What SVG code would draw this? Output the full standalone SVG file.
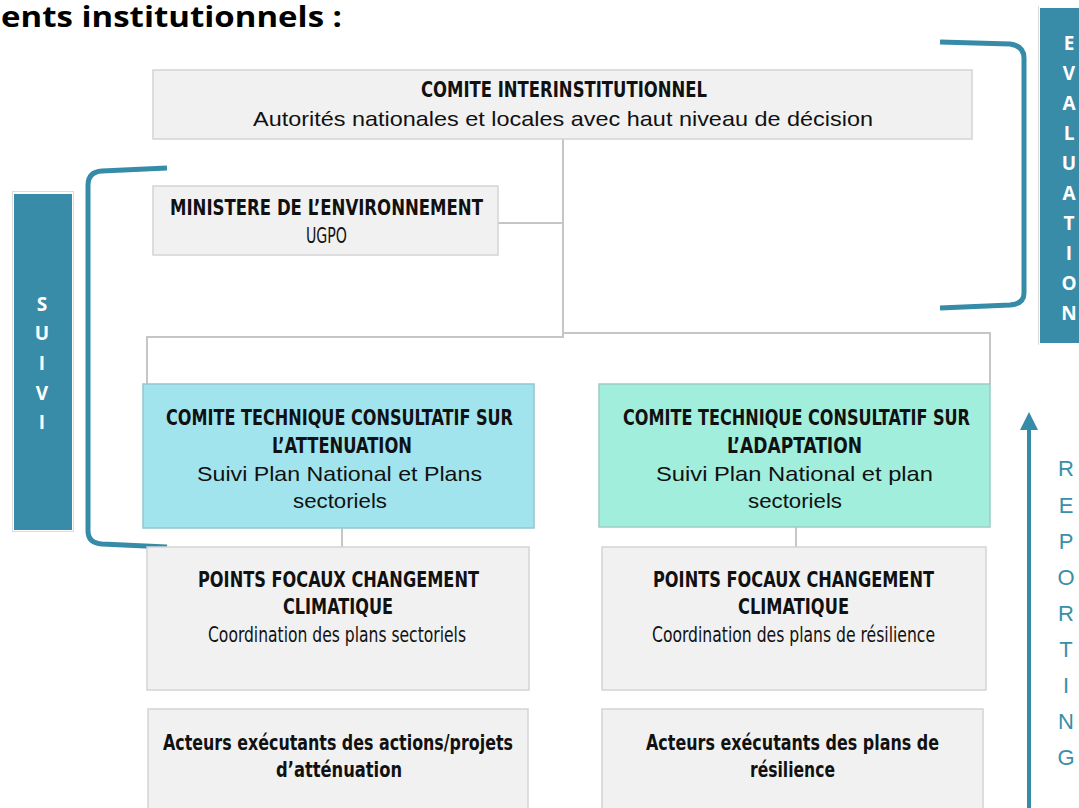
<svg xmlns="http://www.w3.org/2000/svg" width="1079" height="808" viewBox="0 0 1079 808">
  <defs>
    <style>
      .box { fill: #f1f1f1; stroke: #d4d4d4; stroke-width: 1.5; }
      .att { fill: #a2e4ee; stroke: #93c6cf; stroke-width: 1.5; }
      .ada { fill: #a2eedd; stroke: #9ccdc2; stroke-width: 1.5; }
      .band { fill: #388ca8; }
      .band-edge { fill: none; stroke: #dcdcdc; stroke-width: 1; }
      .link { fill: none; stroke: #c6c6c6; stroke-width: 2; }
      .brace { fill: none; stroke: #368ca8; stroke-width: 5; stroke-linecap: butt; }
      .hd { font-family: "Liberation Sans Narrow", "DejaVu Sans Condensed", "Liberation Sans", sans-serif; font-weight: bold; font-size: 22px; fill: #111; text-anchor: middle; }
      .hdn { font-family: "Liberation Sans Narrow", "DejaVu Sans Condensed", "Liberation Sans", sans-serif; font-size: 22px; fill: #111; text-anchor: middle; }
      .tx { font-family: "Liberation Sans", "DejaVu Sans", sans-serif; font-size: 21px; fill: #111; text-anchor: middle; }
      .vl { font-family: "Open Sans", "Liberation Sans", sans-serif; font-weight: bold; font-size: 19px; fill: #ffffff; text-anchor: middle; }
      .rp { font-family: "Liberation Sans", "DejaVu Sans", sans-serif; font-size: 22px; fill: #3a8fa8; text-anchor: middle; }
      .title { font-family: "Open Sans", "Liberation Sans", sans-serif; font-weight: bold; font-size: 29px; fill: #000; }
    </style>
  </defs>

  <rect width="1079" height="808" fill="#ffffff"/>

  <!-- page heading -->
  <text class="title" x="1" y="27" textLength="341" lengthAdjust="spacingAndGlyphs">ents institutionnels :</text>

  <!-- connectors -->
  <g id="connectors">
    <path class="link" d="M563,139 V337 H147 V384"/>
    <path class="link" d="M498,223 H563"/>
    <path class="link" d="M563,333 H990 V384"/>
    <path class="link" d="M342,528 V547"/>
    <path class="link" d="M796,527 V547"/>
  </g>

  <!-- brackets -->
  <g id="brace-suivi">
    <path class="brace" d="M167,168 L102,171 Q88,172 88,185 L88,531 Q88,543 102,544 L167,547"/>
  </g>
  <g id="brace-evaluation">
    <path class="brace" d="M940,42 L1010,44 Q1024,46 1024,58 L1024,293 Q1024,304 1010,305 L940,308"/>
  </g>

  <!-- SUIVI band -->
  <g id="suivi">
    <rect class="band-edge" x="12.5" y="191.5" width="61" height="340"/>
    <rect class="band" x="14" y="194" width="58" height="336"/>
    <text class="vl" x="42" y="311">S</text>
    <text class="vl" x="42" y="340">U</text>
    <text class="vl" x="42" y="370">I</text>
    <text class="vl" x="42" y="400">V</text>
    <text class="vl" x="42" y="429">I</text>
  </g>

  <!-- EVALUATION band -->
  <g id="evaluation">
    <line x1="1038.5" y1="6" x2="1038.5" y2="345" stroke="#dcdcdc" stroke-width="1"/>
    <rect class="band" x="1040" y="8" width="39" height="335"/>
    <text class="vl" x="1069" y="50">E</text>
    <text class="vl" x="1069" y="80">V</text>
    <text class="vl" x="1069" y="110">A</text>
    <text class="vl" x="1069" y="140">L</text>
    <text class="vl" x="1069" y="170">U</text>
    <text class="vl" x="1069" y="200">A</text>
    <text class="vl" x="1069" y="230">T</text>
    <text class="vl" x="1069" y="260">I</text>
    <text class="vl" x="1069" y="290">O</text>
    <text class="vl" x="1069" y="320">N</text>
  </g>

  <!-- REPORTING arrow -->
  <g id="reporting">
    <line x1="1029" y1="808" x2="1029" y2="428" stroke="#368ca8" stroke-width="4"/>
    <path d="M1020,430 L1029,412 L1038,430 z" fill="#368ca8"/>
    <text class="rp" x="1066" y="476">R</text>
    <text class="rp" x="1066" y="513">E</text>
    <text class="rp" x="1066" y="549">P</text>
    <text class="rp" x="1066" y="585">O</text>
    <text class="rp" x="1066" y="621">R</text>
    <text class="rp" x="1066" y="657">T</text>
    <text class="rp" x="1066" y="693">I</text>
    <text class="rp" x="1066" y="729">N</text>
    <text class="rp" x="1066" y="765">G</text>
  </g>

  <!-- nodes -->
  <g id="comite-interinstitutionnel">
    <rect class="box" x="153" y="70" width="819" height="69"/>
    <text class="hd" x="564" y="97" textLength="286" lengthAdjust="spacingAndGlyphs">COMITE INTERINSTITUTIONNEL</text>
    <text class="tx" x="563" y="126" textLength="620" lengthAdjust="spacingAndGlyphs">Autorités nationales et locales avec haut niveau de décision</text>
  </g>

  <g id="ministere">
    <rect class="box" x="153" y="186" width="345" height="69"/>
    <text class="hd" x="326.5" y="215" textLength="313" lengthAdjust="spacingAndGlyphs">MINISTERE DE L’ENVIRONNEMENT</text>
    <text class="hdn" x="326.5" y="243" textLength="41" lengthAdjust="spacingAndGlyphs">UGPO</text>
  </g>

  <g id="ctc-attenuation">
    <rect class="att" x="143" y="384" width="391" height="144"/>
    <text class="hd" x="339.5" y="425" textLength="347" lengthAdjust="spacingAndGlyphs">COMITE TECHNIQUE CONSULTATIF SUR</text>
    <text class="hd" x="342" y="453" textLength="140" lengthAdjust="spacingAndGlyphs">L’ATTENUATION</text>
    <text class="tx" x="339.5" y="481" textLength="285" lengthAdjust="spacingAndGlyphs">Suivi Plan National et Plans</text>
    <text class="tx" x="340" y="508" textLength="94" lengthAdjust="spacingAndGlyphs">sectoriels</text>
  </g>

  <g id="ctc-adaptation">
    <rect class="ada" x="599" y="384" width="391" height="143"/>
    <text class="hd" x="796.5" y="425" textLength="347" lengthAdjust="spacingAndGlyphs">COMITE TECHNIQUE CONSULTATIF SUR</text>
    <text class="hd" x="794.5" y="453" textLength="135" lengthAdjust="spacingAndGlyphs">L’ADAPTATION</text>
    <text class="tx" x="794.5" y="481" textLength="277" lengthAdjust="spacingAndGlyphs">Suivi Plan National et plan</text>
    <text class="tx" x="795" y="508" textLength="94" lengthAdjust="spacingAndGlyphs">sectoriels</text>
  </g>

  <g id="points-focaux-attenuation">
    <rect class="box" x="147" y="547" width="382" height="143"/>
    <text class="hd" x="338.5" y="587" textLength="281" lengthAdjust="spacingAndGlyphs">POINTS FOCAUX CHANGEMENT</text>
    <text class="hd" x="338" y="614" textLength="110" lengthAdjust="spacingAndGlyphs">CLIMATIQUE</text>
    <text class="hdn" x="337" y="642" textLength="258" lengthAdjust="spacingAndGlyphs">Coordination des plans sectoriels</text>
  </g>

  <g id="points-focaux-adaptation">
    <rect class="box" x="602" y="547" width="384" height="143"/>
    <text class="hd" x="793.5" y="587" textLength="281" lengthAdjust="spacingAndGlyphs">POINTS FOCAUX CHANGEMENT</text>
    <text class="hd" x="793.5" y="614" textLength="111" lengthAdjust="spacingAndGlyphs">CLIMATIQUE</text>
    <text class="hdn" x="793.5" y="642" textLength="283" lengthAdjust="spacingAndGlyphs">Coordination des plans de résilience</text>
  </g>

  <g id="acteurs-attenuation">
    <rect class="box" x="148" y="709" width="380" height="110"/>
    <text class="hd" x="338" y="750" textLength="350" lengthAdjust="spacingAndGlyphs">Acteurs exécutants des actions/projets</text>
    <text class="hd" x="339" y="777" textLength="126" lengthAdjust="spacingAndGlyphs">d’atténuation</text>
  </g>

  <g id="acteurs-adaptation">
    <rect class="box" x="602" y="709" width="381" height="110"/>
    <text class="hd" x="792.5" y="750" textLength="293" lengthAdjust="spacingAndGlyphs">Acteurs exécutants des plans de</text>
    <text class="hd" x="792.5" y="777" textLength="85" lengthAdjust="spacingAndGlyphs">résilience</text>
  </g>
</svg>
